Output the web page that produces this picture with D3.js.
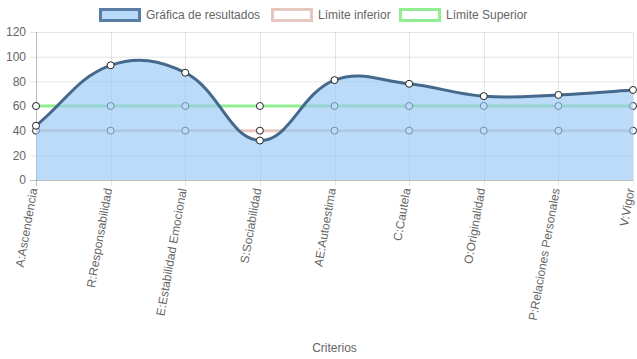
<!DOCTYPE html>
<html><head><meta charset="utf-8">
<script src="https://cdn.jsdelivr.net/npm/d3@7/dist/d3.min.js"></script>
<style>body{margin:0;background:#fff}svg{display:block}text{font-family:"Liberation Sans",Arial,Helvetica,sans-serif}</style>
</head><body><svg id="c" width="637" height="359"></svg>
<script>
const categories=["A:Ascendencia","R:Responsabilidad","E:Estabilidad Emocional","S:Sociabilidad","AE:Autoestima","C:Cautela","O:Originalidad","P:Relaciones Personales","V:Vigor"];
const resultados=[44,93,87,32,81,78,68,69,73];
const limiteInferior=[40,40,40,40,40,40,40,40,40];
const limiteSuperior=[60,60,60,60,60,60,60,60,60];
const yTicks=[0,20,40,60,80,100,120];
const seriesNames=["Gráfica de resultados","Límite inferior","Límite Superior"];
const axisTitle="Criterios";

const svg=d3.select("#c");
const L=36,R=633,T=32,B=180;
const x=d3.scalePoint().domain(categories).range([L,R]);
const y=d3.scaleLinear().domain([0,120]).range([B,T]);
const grid="rgba(0,0,0,0.1)";

// grid
const g=svg.append("g");
yTicks.forEach(v=>{
  g.append("line").attr("x1",L-6).attr("x2",R).attr("y1",y(v)+0.5).attr("y2",y(v)+0.5)
   .attr("stroke",v===0?"rgba(0,0,0,0.25)":grid).attr("stroke-width",1);
  g.append("text").attr("x",L-10).attr("y",y(v)).attr("dy","0.35em").attr("text-anchor","end")
   .attr("font-size",12).attr("fill","#666").text(v);
});
categories.forEach((c,i)=>{
  const xx=Math.round(x(c))+0.5;
  g.append("line").attr("x1",xx).attr("x2",xx).attr("y1",T).attr("y2",B+6)
   .attr("stroke",i===0?"rgba(0,0,0,0.25)":grid);
  g.append("text").attr("transform",`translate(${x(c)+1.5},${B+9}) rotate(-80)`)
   .attr("text-anchor","end").attr("font-size",12).attr("fill","#666").text(c);
});
svg.append("text").attr("x",(L+R)/2).attr("y",352).attr("text-anchor","middle")
  .attr("font-size",12).attr("fill","#666").text(axisTitle);

// Chart.js-like spline
function splinePath(vals,closeToZero){
  const pts=vals.map((v,i)=>[x(categories[i]),y(v)]);
  const t=0.4, cps=[];
  for(let i=0;i<pts.length;i++){
    const p=pts[Math.max(0,i-1)],c=pts[i],n=pts[Math.min(pts.length-1,i+1)];
    const d01=Math.hypot(c[0]-p[0],c[1]-p[1]),d12=Math.hypot(n[0]-c[0],n[1]-c[1]);
    let s01=d01/(d01+d12),s12=d12/(d01+d12);
    if(isNaN(s01))s01=0;if(isNaN(s12))s12=0;
    const fa=t*s01,fb=t*s12;
    cps.push({prev:[c[0]-fa*(n[0]-p[0]),c[1]-fa*(n[1]-p[1])],next:[c[0]+fb*(n[0]-p[0]),c[1]+fb*(n[1]-p[1])]});
  }
  const path=d3.path();
  path.moveTo(pts[0][0],pts[0][1]);
  for(let i=1;i<pts.length;i++){
    const a=cps[i-1].next,b=cps[i].prev;
    path.bezierCurveTo(a[0],a[1],b[0],b[1],pts[i][0],pts[i][1]);
  }
  if(closeToZero){path.lineTo(pts[pts.length-1][0],y(0));path.lineTo(pts[0][0],y(0));path.closePath();}
  return path.toString();
}
function drawPoints(vals){
  svg.append("g").selectAll("circle").data(vals).join("circle")
   .attr("cx",(d,i)=>x(categories[i])).attr("cy",d=>y(d)).attr("r",3.5)
   .attr("fill","#fff").attr("stroke","#222").attr("stroke-width",1);
}
const cSup="#90ee90",cInf="rgb(230,200,190)",cRes="#44698c",fRes="rgba(150,200,245,0.65)";
svg.append("path").attr("d",splinePath(limiteSuperior,false)).attr("fill","none").attr("stroke",cSup).attr("stroke-width",3);
drawPoints(limiteSuperior);
svg.append("path").attr("d",splinePath(limiteInferior,false)).attr("fill","none").attr("stroke",cInf).attr("stroke-width",3);
drawPoints(limiteInferior);
svg.append("path").attr("d",splinePath(resultados,true)).attr("fill",fRes).attr("stroke","none");
svg.append("path").attr("d",splinePath(resultados,false)).attr("fill","none").attr("stroke",cRes).attr("stroke-width",3);
drawPoints(resultados);

// legend
const leg=[{x:99,fill:"rgb(185,218,248)",stroke:"#5a7ea3"},{x:271,fill:"#fff",stroke:cInf},{x:399,fill:"#fff",stroke:cSup}];
leg.forEach((l,i)=>{
  svg.append("rect").attr("x",l.x+1.5).attr("y",9.5).attr("width",39).attr("height",11)
   .attr("fill",l.fill).attr("stroke",l.stroke).attr("stroke-width",3);
  svg.append("text").attr("x",l.x+47).attr("y",15).attr("dy","0.35em").attr("font-size",12).attr("fill","#666").text(seriesNames[i]);
});
</script></body></html>
